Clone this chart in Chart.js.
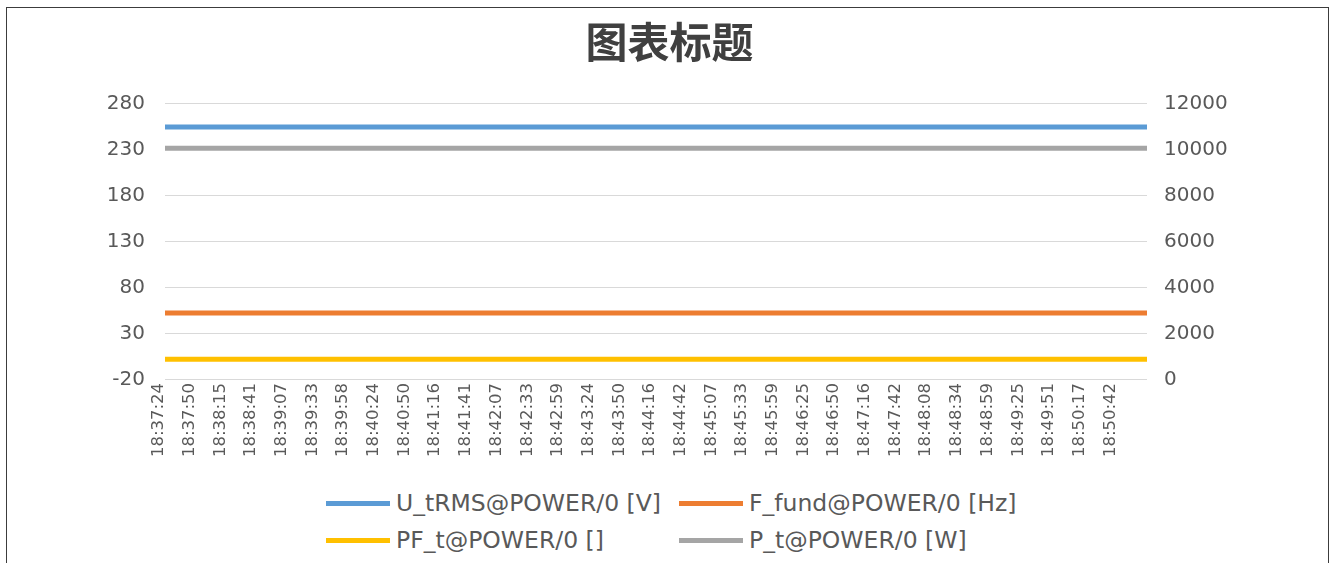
<!DOCTYPE html>
<html>
<head>
<meta charset="utf-8">
<script src="https://cdn.jsdelivr.net/npm/chart.js@4"></script>
<style>
  body { margin: 0; background: #fff; }
  #wrap { position: relative; width: 1339px; height: 563px; overflow: hidden; background: #fff; }
  #frame { position: absolute; left: 6px; top: 7px; width: 1321px; height: 600px; border: 1.5px solid #3c3c3c; }
  #chart { position: absolute; left: 0; top: 0; }
  #legend {
    position: absolute; left: 326px; top: 489px;
    display: grid; grid-template-columns: 353px auto; row-gap: 9px;
    font: 23.5px "DejaVu Sans"; color: #595959;
  }
  .item { display: flex; align-items: center; height: 28px; white-space: nowrap; }
  .swatch { width: 64px; height: 5px; margin-right: 6px; }
</style>
</head>
<body>
<div id="wrap">
  <div id="frame"></div>
  <canvas id="chart" width="1339" height="466"></canvas>
  <div id="legend"></div>
</div>
<script>
const times = [
  "18:37:24", "18:37:50", "18:38:15", "18:38:41", "18:39:07", "18:39:33", "18:39:58", "18:40:24",
  "18:40:50", "18:41:16", "18:41:41", "18:42:07", "18:42:33", "18:42:59", "18:43:24", "18:43:50",
  "18:44:16", "18:44:42", "18:45:07", "18:45:33", "18:45:59", "18:46:25", "18:46:50", "18:47:16",
  "18:47:42", "18:48:08", "18:48:34", "18:48:59", "18:49:25", "18:49:51", "18:50:17", "18:50:42", ""
];

// left axis (V, Hz, PF)
const uRms = [
  254.5, 254.5, 254.5, 254.5, 254.5, 254.5, 254.5, 254.5, 254.5, 254.5, 254.5,
  254.5, 254.5, 254.5, 254.5, 254.5, 254.5, 254.5, 254.5, 254.5, 254.5, 254.5,
  254.5, 254.5, 254.5, 254.5, 254.5, 254.5, 254.5, 254.5, 254.5, 254.5, 254.5
];
const fFund = [
  52.5, 52.5, 52.5, 52.5, 52.5, 52.5, 52.5, 52.5, 52.5, 52.5, 52.5,
  52.5, 52.5, 52.5, 52.5, 52.5, 52.5, 52.5, 52.5, 52.5, 52.5, 52.5,
  52.5, 52.5, 52.5, 52.5, 52.5, 52.5, 52.5, 52.5, 52.5, 52.5, 52.5
];
const pf = [
  2.3, 2.3, 2.3, 2.3, 2.3, 2.3, 2.3, 2.3, 2.3, 2.3, 2.3,
  2.3, 2.3, 2.3, 2.3, 2.3, 2.3, 2.3, 2.3, 2.3, 2.3, 2.3,
  2.3, 2.3, 2.3, 2.3, 2.3, 2.3, 2.3, 2.3, 2.3, 2.3, 2.3
];
// right axis (W)
const pW = [
  10050, 10050, 10050, 10050, 10050, 10050, 10050, 10050, 10050, 10050, 10050,
  10050, 10050, 10050, 10050, 10050, 10050, 10050, 10050, 10050, 10050, 10050,
  10050, 10050, 10050, 10050, 10050, 10050, 10050, 10050, 10050, 10050, 10050
];

const leftTicks = [-20, 30, 80, 130, 180, 230, 280];
const rightTicks = [0, 2000, 4000, 6000, 8000, 10000, 12000];

const tickColor = "#595959";
const gridColor = "#d9d9d9";

const ctx = document.getElementById("chart");
const chart = new Chart(ctx, {
  type: "line",
  data: {
    labels: times,
    datasets: [
      { label: "U_tRMS@POWER/0 [V]", data: uRms, borderColor: "#5b9bd5", yAxisID: "y" },
      { label: "F_fund@POWER/0 [Hz]", data: fFund, borderColor: "#ed7d31", yAxisID: "y" },
      { label: "PF_t@POWER/0 []", data: pf, borderColor: "#ffc000", yAxisID: "y" },
      { label: "P_t@POWER/0 [W]", data: pW, borderColor: "#a5a5a5", yAxisID: "y1" },
    ],
  },
  options: {
    responsive: false,
    animation: false,
    datasets: {
      line: { borderWidth: 5, pointRadius: 0, tension: 0, fill: false },
    },
    layout: { padding: { top: 0, bottom: 6, left: 0, right: 0 } },
    plugins: {
      legend: { display: false },
      tooltip: { enabled: false },
      title: {
        display: true,
        text: "图表标题",
        color: "#404040",
        font: { family: "Noto Sans CJK SC", size: 42, weight: "bold" },
        padding: { top: 17, bottom: 36 },
      },
    },
    scales: {
      x: {
        grid: { display: false, drawTicks: false },
        border: { display: false },
        ticks: {
          autoSkip: false,
          minRotation: 90,
          maxRotation: 90,
          padding: 3,
          labelOffset: -6,
          color: tickColor,
          font: { family: "DejaVu Sans", size: 16.5 },
        },
      },
      y: {
        position: "left",
        min: leftTicks[0],
        max: leftTicks[leftTicks.length - 1],
        afterBuildTicks: (scale) => { scale.ticks = leftTicks.map((v) => ({ value: v })); },
        afterFit: (scale) => { scale.width = 165; },
        grid: { color: gridColor, drawTicks: false },
        border: { display: false },
        ticks: { padding: 20, color: tickColor, font: { family: "DejaVu Sans", size: 20 } },
      },
      y1: {
        position: "right",
        min: rightTicks[0],
        max: rightTicks[rightTicks.length - 1],
        afterBuildTicks: (scale) => { scale.ticks = rightTicks.map((v) => ({ value: v })); },
        afterFit: (scale) => { scale.width = 192; },
        grid: { drawOnChartArea: false, drawTicks: false },
        border: { display: false },
        ticks: {
          padding: 17,
          color: tickColor,
          font: { family: "DejaVu Sans", size: 20 },
          callback: (v) => String(v),
        },
      },
    },
  },
});

// legend laid out in two aligned columns like the original
const legendEl = document.getElementById("legend");
chart.data.datasets.forEach((ds) => {
  const item = document.createElement("div");
  item.className = "item";
  const sw = document.createElement("span");
  sw.className = "swatch";
  sw.style.background = ds.borderColor;
  const txt = document.createElement("span");
  txt.textContent = ds.label;
  item.appendChild(sw);
  item.appendChild(txt);
  legendEl.appendChild(item);
});
</script>
</body>
</html>
